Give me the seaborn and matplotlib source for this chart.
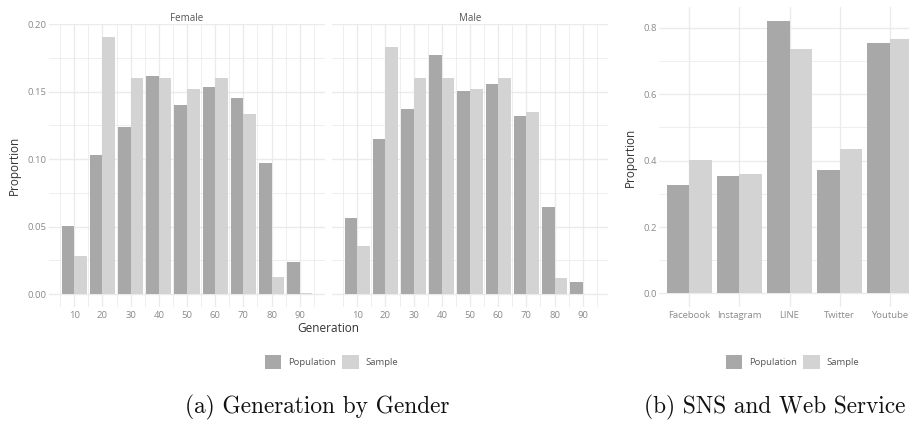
import matplotlib
matplotlib.use("Agg")
import matplotlib.pyplot as plt
import numpy as np
import pandas as pd
import seaborn as sns
from matplotlib.ticker import MultipleLocator, FixedLocator

# ---------------- data ----------------
generations = [10, 20, 30, 40, 50, 60, 70, 80, 90]
female_population = [0.0502, 0.1030, 0.1240, 0.1614, 0.1399, 0.1535, 0.1453, 0.0968, 0.0240]
female_sample = [0.0285, 0.1906, 0.1600, 0.1600, 0.1522, 0.1600, 0.1337, 0.0126, 0.0010]
male_population = [0.0567, 0.1153, 0.1369, 0.1775, 0.1505, 0.1560, 0.1317, 0.0649, 0.0092]
male_sample = [0.0359, 0.1834, 0.1600, 0.1600, 0.1522, 0.1600, 0.1351, 0.0116, 0.0004]

services = ["Facebook", "Instagram", "LINE", "Twitter", "Youtube"]
service_population = [0.326, 0.353, 0.822, 0.371, 0.756]
service_sample = [0.403, 0.359, 0.738, 0.436, 0.766]

types = ["Population", "Sample"]
colors = ["#A8A8A8", "#D3D3D3"]

# ---------------- style ----------------
sns.set_style("white")
plt.rcParams["font.family"] = ["Open Sans", "DejaVu Sans"]

W, H = 909, 423
fig = plt.figure(figsize=(W / 100, H / 100), dpi=100)

def ax_rect(x0, x1, y0, y1):
    return [x0 / W, 1 - y1 / H, (x1 - x0) / W, (y1 - y0) / H]

axF = fig.add_axes(ax_rect(49, 325, 24, 307))
axM = fig.add_axes(ax_rect(332, 608, 24, 307))
axB = fig.add_axes(ax_rect(659, 920, 7, 307))

GRID = "#EBEBEB"
TICKC = "#8A8A8A"
TITLEC = "#333333"

def long_df(pop, samp, cats, catname):
    return pd.DataFrame({
        catname: list(cats) * 2,
        "Type": ["Population"] * len(cats) + ["Sample"] * len(cats),
        "Proportion": list(pop) + list(samp),
    })

dfF = long_df(female_population, female_sample, generations, "Generation")
dfM = long_df(male_population, male_sample, generations, "Generation")
dfB = long_df(service_population, service_sample, services, "Service")

ymax_a = max(max(female_population), max(female_sample), max(male_population), max(male_sample))
ylim_a = (-0.05 * ymax_a, 1.05 * ymax_a)
ymax_b = max(max(service_population), max(service_sample))
ylim_b = (-0.05 * ymax_b, 1.05 * ymax_b)

for ax, df, title in [(axF, dfF, "Female"), (axM, dfM, "Male")]:
    sns.barplot(data=df, x="Generation", y="Proportion", hue="Type", hue_order=types,
                palette=colors, native_scale=True, width=0.9, linewidth=0,
                ax=ax, legend=(ax is axF), zorder=3)
    ax.set_xlim(1.05, 98.95)
    ax.set_ylim(*ylim_a)
    ax.xaxis.set_major_locator(FixedLocator(generations))
    ax.xaxis.set_minor_locator(FixedLocator([5, 15, 25, 35, 45, 55, 65, 75, 85, 95]))
    ax.set_xticklabels([str(g) for g in generations])
    ax.yaxis.set_major_locator(MultipleLocator(0.05))
    ax.yaxis.set_minor_locator(MultipleLocator(0.025))
    ax.set_title(title, fontsize=7, color="#555555", pad=2.5)
    ax.set_xlabel("")
    ax.set_ylabel("")

axF.yaxis.set_major_formatter(matplotlib.ticker.FormatStrFormatter("%.2f"))
axM.tick_params(axis="y", which="both", labelleft=False)

sns.barplot(data=dfB, x="Service", y="Proportion", hue="Type", hue_order=types,
            palette=colors, width=0.9, linewidth=0, ax=axB, legend=True, zorder=3)
axB.set_xlim(-0.6, len(services) - 0.4)
axB.set_ylim(*ylim_b)
axB.yaxis.set_major_locator(MultipleLocator(0.2))
axB.yaxis.set_minor_locator(MultipleLocator(0.1))
axB.yaxis.set_major_formatter(matplotlib.ticker.FormatStrFormatter("%.1f"))
axB.set_xlabel("")
axB.set_ylabel("")

for ax in (axF, axM, axB):
    for s in ax.spines.values():
        s.set_visible(False)
    ax.set_axisbelow(True)
    ax.grid(True, which="major", axis="both", color=GRID, linewidth=1.0)
    ax.grid(True, which="minor", axis="y", color=GRID, linewidth=0.6)
    if ax is not axB:
        ax.grid(True, which="minor", axis="x", color=GRID, linewidth=0.6)
    ax.tick_params(axis="both", which="both", length=0, labelsize=6.8, labelcolor=TICKC)
    ax.tick_params(axis="x", pad=3)
    ax.tick_params(axis="y", pad=1.5)

# y-axis titles
axF.set_ylabel("Proportion", fontsize=8.5, color=TITLEC)
axF.yaxis.set_label_coords((21 - 49) / 276, 0.5)
axB.set_ylabel("Proportion", fontsize=8.5, color=TITLEC)
axB.yaxis.set_label_coords((637 - 659) / 261, 0.5)

fig.text(328 / W, 1 - 328 / H, "Generation", ha="center", va="center",
         fontsize=8.5, color=TITLEC)

# legends
leg_kw = dict(loc="center", ncol=2, frameon=False, fontsize=6.8,
              handlelength=1.75, handleheight=1.75, handletextpad=0.7,
              columnspacing=0.7, borderpad=0, labelcolor="#555555")
hF, lF = axF.get_legend_handles_labels()
axF.get_legend().remove()
fig.legend(hF, lF, bbox_to_anchor=(331.5 / W, 1 - 362 / H), **leg_kw)
hB, lB = axB.get_legend_handles_labels()
axB.get_legend().remove()
fig.legend(hB, lB, bbox_to_anchor=(792.5 / W, 1 - 362 / H), **leg_kw)

# captions
fig.text(317.5 / W, 1 - 413 / H, "(a) Generation by Gender", ha="center",
         va="baseline", fontsize=16.8, family="cmr10", color="#111111")
fig.text(775 / W, 1 - 413 / H, "(b) SNS and Web Service", ha="center",
         va="baseline", fontsize=16.8, family="cmr10", color="#111111")

fig.savefig("out.png", dpi=100)
